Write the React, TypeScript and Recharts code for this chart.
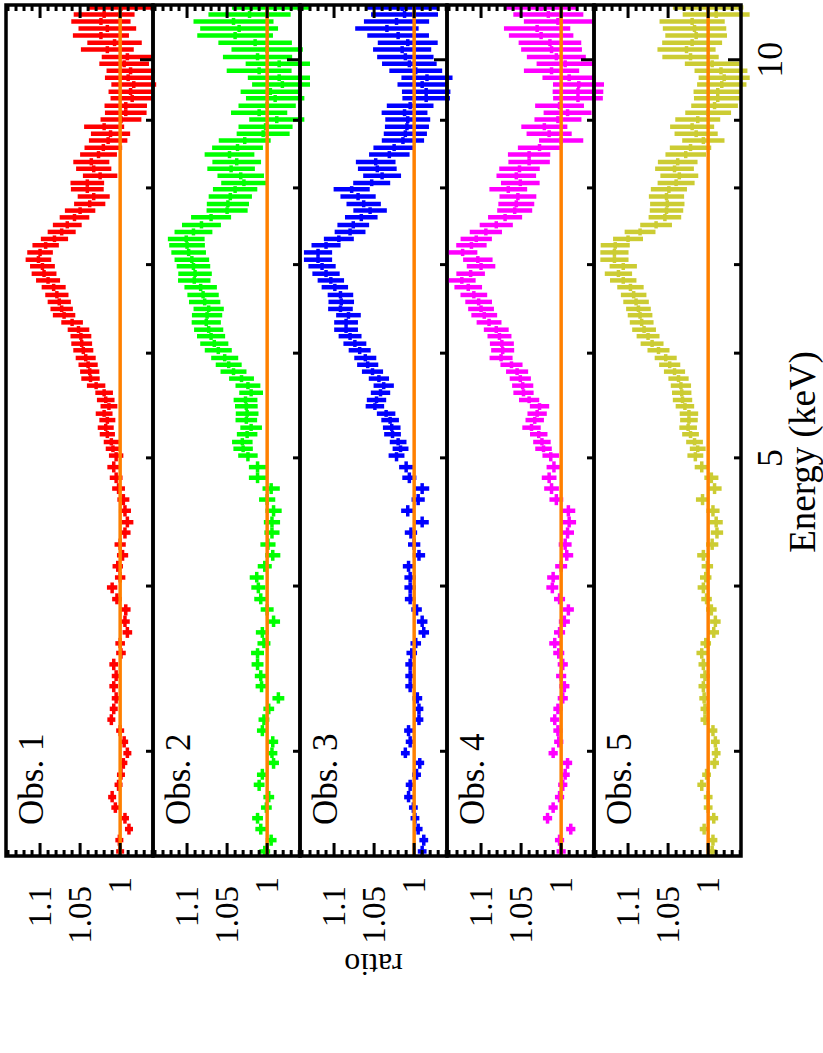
import { ScatterChart, Scatter, XAxis, YAxis, ErrorBar, ReferenceLine, ReferenceArea } from 'recharts';

// energy bin centres (keV), shared by all five observations
const ENERGY = [
  2.52, 2.57, 2.62, 2.67, 2.72, 2.77, 2.83, 2.88, 2.94, 2.99,
  3.05, 3.11, 3.17, 3.23, 3.29, 3.36, 3.42, 3.49, 3.56, 3.62,
  3.69, 3.76, 3.84, 3.91, 3.99, 4.06, 4.14, 4.22, 4.30, 4.39,
  4.47, 4.56, 4.65, 4.74, 4.83, 4.92,
  5.02, 5.08, 5.14, 5.21, 5.27, 5.34, 5.40, 5.47, 5.53, 5.60,
  5.67, 5.74, 5.81, 5.88, 5.95, 6.03, 6.10, 6.18, 6.25, 6.33,
  6.41, 6.48, 6.56, 6.64, 6.73, 6.81, 6.89, 6.98, 7.06, 7.15,
  7.24, 7.32, 7.41, 7.50, 7.60, 7.69, 7.78, 7.88, 7.98, 8.07,
  8.17, 8.27, 8.37, 8.48, 8.58, 8.69, 8.79, 8.90, 9.01, 9.12,
  9.23, 9.35, 9.46, 9.58, 9.69, 9.81, 9.93, 10.05, 10.18, 10.30,
  10.43, 10.56, 10.69, 10.82, 10.95,
];

// 1-sigma error on the ratio
const ERR = [
  0.005, 0.005, 0.005, 0.005, 0.005, 0.005, 0.005, 0.005, 0.005, 0.005,
  0.005, 0.005, 0.005, 0.005, 0.0055, 0.0055, 0.0055, 0.0055, 0.006, 0.006,
  0.006, 0.006, 0.006, 0.006, 0.0065, 0.0065, 0.0065, 0.007, 0.007, 0.007,
  0.0075, 0.0075, 0.0075, 0.008, 0.008, 0.008,
  0.009, 0.009, 0.0095, 0.0095, 0.01, 0.01, 0.0105, 0.0105, 0.011, 0.011,
  0.0115, 0.0115, 0.012, 0.012, 0.0125, 0.0125, 0.013, 0.013, 0.0135, 0.0135,
  0.014, 0.014, 0.0145, 0.0145, 0.015, 0.015, 0.0155, 0.0155, 0.016, 0.016,
  0.0165, 0.017, 0.0175, 0.018, 0.0185, 0.019, 0.0195, 0.02, 0.0205, 0.021,
  0.0215, 0.022, 0.0225, 0.023, 0.0235, 0.024, 0.0245, 0.025, 0.0255, 0.026,
  0.0265, 0.027, 0.0275, 0.028, 0.029, 0.03, 0.031, 0.032, 0.033, 0.034,
  0.035, 0.036, 0.037, 0.038, 0.04,
];

const OBS1 = [
  1.0, 1.001, 0.989, 0.994, 1.006, 1.01, 1.002, 0.999, 0.996, 0.991,
  0.995, 1.0, 1.011, 1.008, 1.005, 1.008, 1.005, 1.008, 0.999, 1.0,
  0.991, 0.994, 0.993, 1.004, 1.01, 1.0, 1.003, 0.997, 1.0, 0.994,
  0.991, 0.994, 0.996, 1.002, 1.005, 1.008,
  1.005, 1.009, 1.011, 1.016, 1.018, 1.016, 1.02, 1.014, 1.018, 1.02,
  1.03, 1.037, 1.038, 1.04, 1.043, 1.046, 1.048, 1.049, 1.052, 1.06,
  1.07, 1.073, 1.076, 1.079, 1.083, 1.09, 1.095, 1.097, 1.102, 1.1,
  1.093, 1.082, 1.073, 1.066, 1.057, 1.05, 1.038, 1.033, 1.041, 1.041,
  1.025, 1.033, 1.036, 1.027, 1.021, 1.015, 1.012, 1.02, 0.999, 0.993,
  0.993, 0.985, 0.987, 0.983, 0.99, 0.987, 0.995, 0.991, 1.016, 1.007,
  1.024, 1.016, 1.024, 1.02, 0.999,
];

const OBS2 = [
  1.003, 0.995, 1.008, 1.012, 1.001, 0.998, 1.01, 1.006, 0.992, 0.994,
  0.993, 1.006, 1.004, 0.998, 0.986, 1.007, 1.008, 1.012, 1.012, 1.004,
  1.006, 0.992, 1.0, 1.008, 1.011, 1.013, 1.003, 0.993, 0.999, 0.994,
  0.994, 0.992, 1.0, 0.995, 1.012, 1.012,
  1.024, 1.03, 1.031, 1.025, 1.02, 1.026, 1.025, 1.026, 1.027, 1.02,
  1.024, 1.032, 1.042, 1.048, 1.053, 1.061, 1.066, 1.07, 1.073, 1.076,
  1.075, 1.073, 1.078, 1.08, 1.083, 1.091, 1.09, 1.092, 1.094, 1.098,
  1.1, 1.101, 1.092, 1.082, 1.07, 1.05, 1.049, 1.046, 1.04, 1.029,
  1.033, 1.045, 1.038, 1.047, 1.037, 1.028, 1.005, 1.002, 0.988, 1.01,
  1.0, 0.99, 0.996, 0.981, 0.985, 1.01, 0.985, 1.012, 1.0, 1.015,
  1.04, 1.035, 1.042, 1.022, 0.99,
];

const OBS3 = [
  0.99, 0.988, 0.995, 0.999, 1.001, 1.007, 1.005, 0.997, 0.993, 1.011,
  1.005, 1.007, 0.994, 0.994, 0.996, 1.005, 1.005, 1.005, 1.003, 0.998,
  0.988, 0.99, 0.997, 1.005, 1.005, 1.005, 1.007, 0.994, 1.0, 1.004,
  0.99, 1.008, 0.995, 0.99, 1.006, 1.01,
  1.022, 1.017, 1.02, 1.027, 1.028, 1.03, 1.035, 1.049, 1.047, 1.042,
  1.038, 1.044, 1.052, 1.058, 1.061, 1.068, 1.074, 1.08, 1.085, 1.085,
  1.082, 1.092, 1.091, 1.092, 1.099, 1.104, 1.11, 1.115, 1.12, 1.12,
  1.11, 1.094, 1.08, 1.076, 1.066, 1.055, 1.063, 1.07, 1.078, 1.053,
  1.04, 1.046, 1.048, 1.031, 1.025, 1.014, 1.011, 1.009, 1.008, 1.012,
  1.005, 0.985, 0.985, 0.99, 0.984, 0.998, 1.006, 1.011, 1.015, 1.008,
  1.02, 1.034, 1.022, 1.012, 1.015,
];

const OBS4 = [
  1.0, 1.002, 0.988, 1.017, 1.01, 1.002, 0.998, 0.995, 0.992, 1.01,
  1.003, 1.004, 1.008, 1.004, 0.998, 0.996, 1.0, 0.998, 1.003, 1.008,
  1.002, 0.996, 0.991, 1.002, 1.011, 1.01, 1.0, 0.993, 0.995, 0.992,
  0.99, 0.991, 1.006, 1.012, 1.015, 1.009,
  1.013, 1.022, 1.024, 1.028, 1.037, 1.033, 1.03, 1.027, 1.04, 1.047,
  1.048, 1.051, 1.055, 1.062, 1.075, 1.073, 1.074, 1.077, 1.081, 1.09,
  1.096, 1.1, 1.103, 1.109, 1.116, 1.124, 1.113, 1.1, 1.104, 1.123,
  1.112, 1.106, 1.094, 1.081, 1.07, 1.058, 1.056, 1.054, 1.066, 1.051,
  1.056, 1.052, 1.04, 1.04, 1.027, 1.0, 1.015, 1.021, 1.004, 0.992,
  1.002, 0.979, 0.979, 0.978, 0.99, 1.012, 0.995, 1.006, 1.012, 1.014,
  1.025, 1.03, 1.004, 1.016, 1.025,
];

const OBS5 = [
  0.995, 0.994, 1.005, 0.993, 1.0, 1.0, 1.008, 1.002, 0.992, 0.99,
  0.991, 0.994, 1.004, 1.004, 1.005, 1.006, 1.004, 1.006, 1.008, 1.003,
  0.993, 0.991, 0.996, 1.002, 1.006, 1.003, 1.001, 1.006, 0.995, 0.989,
  0.99, 0.994, 1.007, 0.992, 0.996, 1.008,
  1.016, 1.013, 1.017, 1.022, 1.025, 1.024, 1.024, 1.029, 1.032, 1.033,
  1.034, 1.037, 1.042, 1.048, 1.053, 1.062, 1.07, 1.075, 1.08, 1.083,
  1.085, 1.087, 1.09, 1.093, 1.097, 1.106, 1.112, 1.106, 1.117, 1.117,
  1.116, 1.1, 1.085, 1.065, 1.054, 1.052, 1.051, 1.052, 1.049, 1.04,
  1.036, 1.042, 1.038, 1.028, 1.022, 1.006, 1.015, 1.02, 1.013, 1.0,
  0.992, 0.988, 0.988, 0.983, 0.98, 0.984, 0.995, 1.022, 1.027, 1.02,
  1.015, 1.017, 1.02, 0.99, 1.0,
];

const OBS_RATIOS = [OBS1, OBS2, OBS3, OBS4, OBS5];
const OBS_NAMES = ['Obs. 1', 'Obs. 2', 'Obs. 3', 'Obs. 4', 'Obs. 5'];
const OBS_COLORS = ['#ff0000', '#00ff00', '#0000ff', '#ff00ff', '#cccc33'];
const ERR_SCALE = [1.0, 1.35, 1.1, 1.15, 1.1];

const E_DOMAIN = [2.5, 11];
const E_TICKS = [3, 4, 5, 6, 7, 8, 9, 10];
const E_LABELS = [5, 10];
const R_DOMAIN = [0.959, 1.1425];
const R_TICKS = [
  0.96, 0.97, 0.98, 0.99, 1.0, 1.01, 1.02, 1.03, 1.04, 1.05,
  1.06, 1.07, 1.08, 1.09, 1.1, 1.11, 1.12, 1.13, 1.14,
];
const R_LABELS = [1, 1.05, 1.1];

const FONT = '"Liberation Serif", "DejaVu Serif", serif';

// layout of the unrotated figure (it is turned by -90deg afterwards)
const FIG_W = 1053;
const FIG_H = 823;
const PLOT_LEFT = 197;
const PLOT_RIGHT = 5;
const PANEL_TOP = 6;
const PANEL_H = 147;

function EnergyTick(props: any) {
  const { x, y, payload, side, labels } = props;
  const len = payload.value === 10 ? 13 : 7;
  const dir = side === 'bottom' ? -1 : 1;
  return (
    <g>
      <line x1={x} x2={x} y1={y} y2={y + dir * len} stroke="#000" strokeWidth={3} />
      {labels && E_LABELS.includes(payload.value) && (
        <text x={x} y={y + 41} textAnchor="middle" fontFamily={FONT} fontSize={36} fill="#000">
          {payload.value}
        </text>
      )}
    </g>
  );
}

function RatioTick(props: any) {
  const { x, y, payload, side } = props;
  const major = R_LABELS.some((v) => Math.abs(v - payload.value) < 1e-6);
  const len = major ? 13 : 6;
  const dir = side === 'left' ? 1 : -1;
  return (
    <g>
      <line x1={x} x2={x + dir * len} y1={y} y2={y} stroke="#000" strokeWidth={3} />
      {side === 'left' && major && (
        <text
          x={x - (Math.abs(payload.value - 1) < 1e-6 ? 21 : 30)}
          y={y}
          textAnchor="end"
          dominantBaseline="central"
          fontFamily={FONT}
          fontSize={33}
          fill="#000"
        >
          {String(Math.round(payload.value * 100) / 100)}
        </text>
      )}
    </g>
  );
}

function Panel({ index }: { index: number }) {
  const ratios = OBS_RATIOS[index];
  const data = ENERGY.map((e, i) => {
    const prev = i > 0 ? ENERGY[i - 1] : (e * e) / ENERGY[i + 1];
    const next = i < ENERGY.length - 1 ? ENERGY[i + 1] : (e * e) / ENERGY[i - 1];
    return {
      e,
      r: ratios[i],
      ex: [e - Math.sqrt(prev * e), Math.sqrt(next * e) - e],
      ey: ERR[i] * ERR_SCALE[index],
    };
  });
  const last = index === OBS_RATIOS.length - 1;
  const mTop = 10;
  const mBottom = last ? 60 : 10;
  const color = OBS_COLORS[index];

  // every axis is 1px thick (a 0px axis is not drawn), so margins are 1px smaller
  return (
    <div style={{ position: 'absolute', left: 0, top: PANEL_TOP + index * PANEL_H - mTop }}>
      <ScatterChart
        width={FIG_W}
        height={PANEL_H + mTop + mBottom}
        margin={{ top: mTop - 1, bottom: mBottom - 1, left: PLOT_LEFT - 1, right: PLOT_RIGHT - 1 }}
      >
        <XAxis
          xAxisId="b" dataKey="e" type="number" scale="log" domain={E_DOMAIN} allowDataOverflow
          ticks={E_TICKS} interval={0} height={1} tickSize={0} tickMargin={0}
          axisLine={false} tickLine={false}
          tick={(p: any) => <EnergyTick {...p} side="bottom" labels={last} />}
        />
        <XAxis
          xAxisId="t" orientation="top" type="number" scale="log" domain={E_DOMAIN} allowDataOverflow
          ticks={E_TICKS} interval={0} height={1} tickSize={0} tickMargin={0}
          axisLine={false} tickLine={false}
          tick={(p: any) => <EnergyTick {...p} side="top" labels={false} />}
        />
        <YAxis
          yAxisId="l" dataKey="r" type="number" domain={R_DOMAIN} allowDataOverflow
          ticks={R_TICKS} interval={0} width={1} tickSize={0} tickMargin={0}
          axisLine={false} tickLine={false}
          tick={(p: any) => <RatioTick {...p} side="left" />}
        />
        <YAxis
          yAxisId="r" orientation="right" type="number" domain={R_DOMAIN} allowDataOverflow
          ticks={R_TICKS} interval={0} width={1} tickSize={0} tickMargin={0}
          axisLine={false} tickLine={false}
          tick={(p: any) => <RatioTick {...p} side="right" />}
        />
        <Scatter
          xAxisId="b" yAxisId="l" data={data} dataKey="r" fill={color}
          shape={() => <g />} isAnimationActive={false}
        >
          <ErrorBar dataKey="ey" direction="y" width={0} stroke={color} strokeWidth={4.5} isAnimationActive={false} />
          <ErrorBar dataKey="ex" direction="x" width={0} stroke={color} strokeWidth={3.5} isAnimationActive={false} />
        </Scatter>
        <ReferenceLine xAxisId="b" yAxisId="l" y={1} stroke="#ff8000" strokeWidth={3.5} zIndex={700} />
        <ReferenceArea
          xAxisId="b" yAxisId="l" x1={E_DOMAIN[0]} x2={E_DOMAIN[1]} y1={R_DOMAIN[0]} y2={R_DOMAIN[1]}
          fill="none" fillOpacity={0} stroke="#000" strokeWidth={3.5} ifOverflow="visible" zIndex={800}
        />
      </ScatterChart>
    </div>
  );
}

export default function App() {
  return (
    <div style={{ position: 'absolute', left: 0, top: 0, width: FIG_H, height: FIG_W, overflow: 'hidden', background: '#fff' }}>
      <div
        style={{
          position: 'absolute', left: 0, top: 0, width: FIG_W, height: FIG_H,
          transform: `translateY(${FIG_W}px) rotate(-90deg)`, transformOrigin: '0 0',
        }}
      >
        {OBS_RATIOS.map((_, i) => (
          <Panel key={i} index={i} />
        ))}
        <svg width={FIG_W} height={FIG_H} style={{ position: 'absolute', left: 0, top: 0, pointerEvents: 'none' }}>
          {OBS_NAMES.map((name, i) => (
            <text key={name} x={228} y={PANEL_TOP + i * PANEL_H + 37} fontFamily={FONT} fontSize={35} fill="#000">
              {name}
            </text>
          ))}
          <text
            transform={`translate(88, ${PANEL_TOP + 2.5 * PANEL_H}) rotate(-90)`}
            textAnchor="middle" dominantBaseline="central" fontFamily={FONT} fontSize={32} fill="#000"
          >
            ratio
          </text>
          <text x={601} y={815} textAnchor="middle" fontFamily={FONT} fontSize={37} fill="#000">
            Energy (keV)
          </text>
        </svg>
      </div>
    </div>
  );
}
